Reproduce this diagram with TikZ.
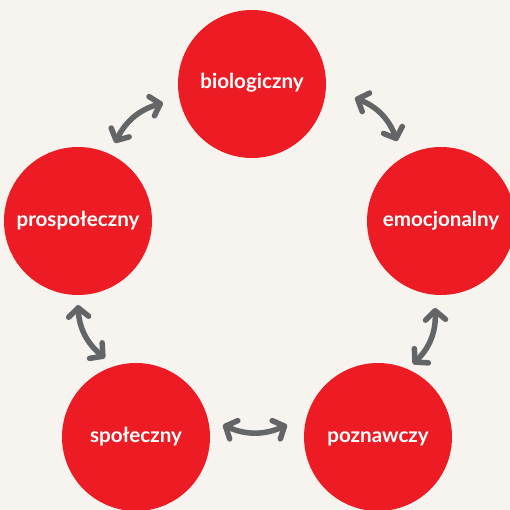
\documentclass[tikz,border=0pt]{standalone}
\usepackage{fontspec}
\setmainfont{Lato}[UprightFont=* Bold]
\usetikzlibrary{calc,arrows.meta}
\definecolor{paper}{RGB}{247,244,239}
\definecolor{circred}{RGB}{237,28,36}
\definecolor{arrowgray}{RGB}{100,101,103}
\tikzset{
  blob/.style={circle, fill=circred, minimum size=148pt, inner sep=0pt,
    text=white, font=\fontsize{20.6}{20.6}\selectfont,
    text height=15pt, text depth=5pt},
  barb/.tip={Straight Barb[length=9pt,width=20pt,line cap=round,round]},
  link/.style={draw=arrowgray, line width=5.5pt, line cap=round,
    barb-barb, bend left=24}
}
\begin{document}
\begin{tikzpicture}[x=1pt,y=-1pt]
  \fill[paper] (0,0) rectangle (510,510);
  \useasboundingbox (0,0) rectangle (510,510);
  \begin{scope}
    \clip (0,0) rectangle (510,510);
    \node[blob] (bio) at (252,84)  {biologiczny};
    \node[blob] (emo) at (441,221) {emocjonalny};
    \node[blob] (poz) at (378,437) {poznawczy};
    \node[blob] (spo) at (136,437) {społeczny};
    \node[blob] (pro) at (78,221)  {prospołeczny};
  \end{scope}
  % double-headed links, bowed outward
  \draw[link] ($(bio)+(103,14)$) to ($(emo)+(-44,-80)$);
  \draw[link] ($(emo)+(-6,87)$) to ($(poz)+(35,-73)$);
  \draw[link] ($(poz)+(-91,-12)$) to ($(spo)+(87,-12)$);
  \draw[link] ($(spo)+(-31,-79)$) to ($(pro)+(0,84)$);
  \draw[link] ($(pro)+(37,-78)$) to ($(bio)+(-89,19)$);
\end{tikzpicture}
\end{document}
